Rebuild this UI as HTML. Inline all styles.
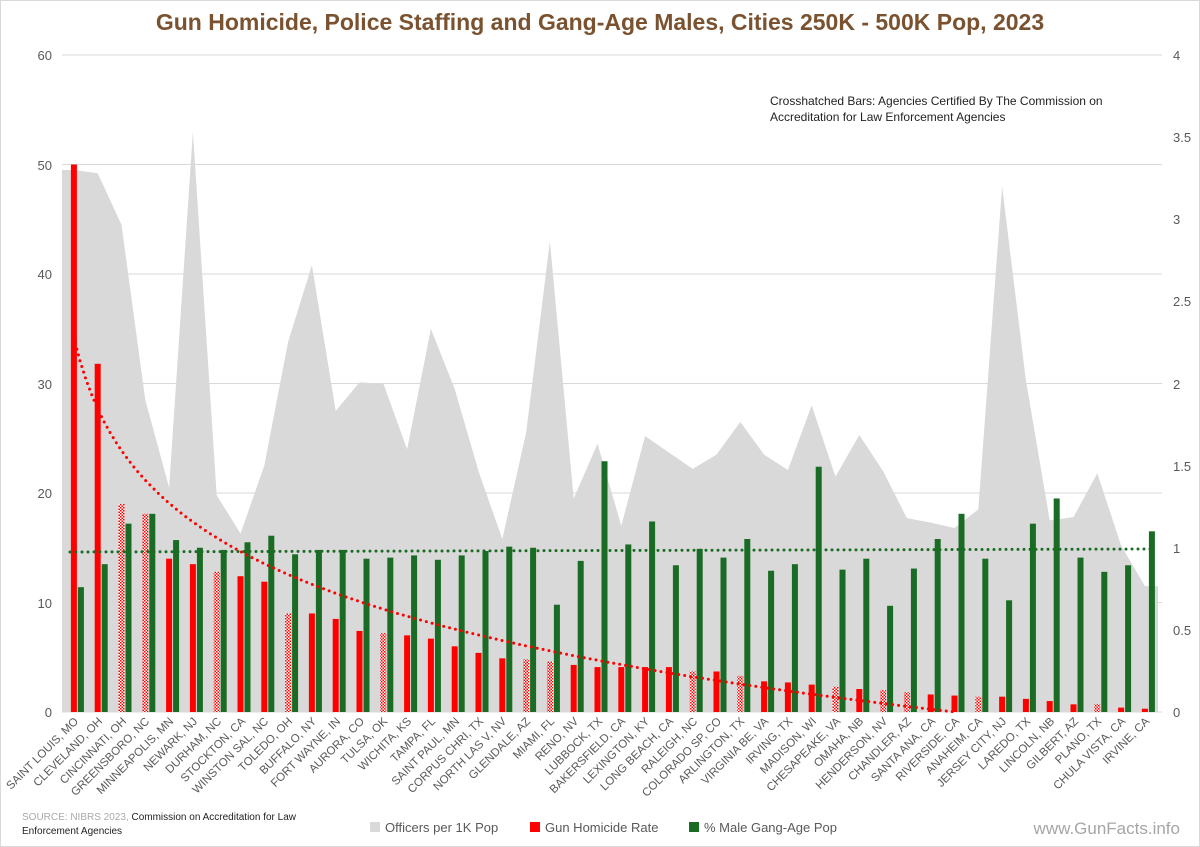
<!DOCTYPE html>
<html><head><meta charset="utf-8"><style>
html,body{margin:0;padding:0;background:#fff;}
svg{display:block;font-family:"Liberation Sans",sans-serif;}
</style></head><body>
<svg id="s" width="1200" height="847" viewBox="0 0 1200 847" xmlns="http://www.w3.org/2000/svg">
<defs>
<pattern id="h" width="3" height="3" patternUnits="userSpaceOnUse">
<rect width="3" height="3" fill="#fff"/><rect width="1.5" height="1.5" fill="#f00"/><rect x="1.5" y="1.5" width="1.5" height="1.5" fill="#f00"/>
</pattern>
</defs>
<rect x="0.5" y="0.5" width="1199" height="846" fill="#fff" stroke="#d9d9d9"/>
<text x="600" y="30" text-anchor="middle" font-size="23" font-weight="bold" fill="#7a5230">Gun Homicide, Police Staffing and Gang-Age Males, Cities 250K - 500K Pop, 2023</text>
<g id="grid" stroke="#d9d9d9" stroke-width="1"></g>
<g id="area"></g>
<g id="bars"></g>
<g id="trend"></g>
<g font-size="13" fill="#595959" text-anchor="end">
<text x="52" y="60">60</text><text x="52" y="170">50</text><text x="52" y="279">40</text><text x="52" y="389">30</text><text x="52" y="498">20</text><text x="52" y="608">10</text><text x="52" y="717">0</text>
</g>
<g font-size="13" fill="#595959">
<text x="1173" y="60">4</text><text x="1173" y="142">3.5</text><text x="1173" y="224">3</text><text x="1173" y="306">2.5</text><text x="1173" y="389">2</text><text x="1173" y="471">1.5</text><text x="1173" y="553">1</text><text x="1173" y="635">0.5</text><text x="1173" y="717">0</text>
</g>
<text x="770" y="105" font-size="12" fill="#222">Crosshatched Bars: Agencies Certified By The Commission on</text>
<text x="770" y="121" font-size="12" fill="#222">Accreditation for Law Enforcement Agencies</text>
<g id="labels" font-size="11.5" fill="#595959" text-anchor="end">
<text transform="translate(79,722) rotate(-45)">SAINT LOUIS, MO</text>
<text transform="translate(103,722) rotate(-45)">CLEVELAND, OH</text>
<text transform="translate(127,722) rotate(-45)">CINCINNATI, OH</text>
<text transform="translate(150,722) rotate(-45)">GREENSBORO, NC</text>
<text transform="translate(174,722) rotate(-45)">MINNEAPOLIS, MN</text>
<text transform="translate(198,722) rotate(-45)">NEWARK, NJ</text>
<text transform="translate(222,722) rotate(-45)">DURHAM, NC</text>
<text transform="translate(246,722) rotate(-45)">STOCKTON, CA</text>
<text transform="translate(269,722) rotate(-45)">WINSTON SAL, NC</text>
<text transform="translate(293,722) rotate(-45)">TOLEDO, OH</text>
<text transform="translate(317,722) rotate(-45)">BUFFALO, NY</text>
<text transform="translate(341,722) rotate(-45)">FORT WAYNE, IN</text>
<text transform="translate(365,722) rotate(-45)">AURORA, CO</text>
<text transform="translate(388,722) rotate(-45)">TULSA, OK</text>
<text transform="translate(412,722) rotate(-45)">WICHITA, KS</text>
<text transform="translate(436,722) rotate(-45)">TAMPA, FL</text>
<text transform="translate(460,722) rotate(-45)">SAINT PAUL, MN</text>
<text transform="translate(484,722) rotate(-45)">CORPUS CHRI, TX</text>
<text transform="translate(507,722) rotate(-45)">NORTH LAS V, NV</text>
<text transform="translate(531,722) rotate(-45)">GLENDALE, AZ</text>
<text transform="translate(555,722) rotate(-45)">MIAMI, FL</text>
<text transform="translate(579,722) rotate(-45)">RENO, NV</text>
<text transform="translate(603,722) rotate(-45)">LUBBOCK, TX</text>
<text transform="translate(626,722) rotate(-45)">BAKERSFIELD, CA</text>
<text transform="translate(650,722) rotate(-45)">LEXINGTON, KY</text>
<text transform="translate(674,722) rotate(-45)">LONG BEACH, CA</text>
<text transform="translate(698,722) rotate(-45)">RALEIGH, NC</text>
<text transform="translate(722,722) rotate(-45)">COLORADO SP, CO</text>
<text transform="translate(745,722) rotate(-45)">ARLINGTON, TX</text>
<text transform="translate(769,722) rotate(-45)">VIRGINIA BE, VA</text>
<text transform="translate(793,722) rotate(-45)">IRVING, TX</text>
<text transform="translate(817,722) rotate(-45)">MADISON, WI</text>
<text transform="translate(841,722) rotate(-45)">CHESAPEAKE, VA</text>
<text transform="translate(864,722) rotate(-45)">OMAHA, NB</text>
<text transform="translate(888,722) rotate(-45)">HENDERSON, NV</text>
<text transform="translate(912,722) rotate(-45)">CHANDLER, AZ</text>
<text transform="translate(936,722) rotate(-45)">SANTA ANA, CA</text>
<text transform="translate(960,722) rotate(-45)">RIVERSIDE, CA</text>
<text transform="translate(983,722) rotate(-45)">ANAHEIM, CA</text>
<text transform="translate(1007,722) rotate(-45)">JERSEY CITY, NJ</text>
<text transform="translate(1031,722) rotate(-45)">LAREDO, TX</text>
<text transform="translate(1055,722) rotate(-45)">LINCOLN, NB</text>
<text transform="translate(1079,722) rotate(-45)">GILBERT, AZ</text>
<text transform="translate(1102,722) rotate(-45)">PLANO, TX</text>
<text transform="translate(1126,722) rotate(-45)">CHULA VISTA, CA</text>
<text transform="translate(1150,722) rotate(-45)">IRVINE, CA</text>
</g>
<text x="22" y="820" font-size="10" fill="#aaa">SOURCE: NIBRS 2023, <tspan fill="#222">Commission on Accreditation for Law</tspan></text>
<text x="22" y="834" font-size="10" fill="#222">Enforcement Agencies</text>
<rect x="370" y="822" width="10" height="10" fill="#d9d9d9"/>
<text x="385" y="832" font-size="13" fill="#595959">Officers per 1K Pop</text>
<rect x="530" y="822" width="10" height="10" fill="#f00"/>
<text x="545" y="832" font-size="13" fill="#595959">Gun Homicide Rate</text>
<rect x="689" y="822" width="10" height="10" fill="#1a6b23"/>
<text x="704" y="832" font-size="13" fill="#595959">% Male Gang-Age Pop</text>
<text x="1180" y="834" font-size="17" fill="#a6a6a6" text-anchor="end">www.GunFacts.info</text>
</svg>
<script>
var NS="http://www.w3.org/2000/svg";
function el(p,t,a){var e=document.createElementNS(NS,t);for(var k in a)e.setAttribute(k,a[k]);document.getElementById(p).appendChild(e);return e;}
function Y(v){return 712-v*10.95;}
for(var g=0;g<=60;g+=10){el("grid","line",{x1:62,x2:1162,y1:Y(g),y2:Y(g)});}
var red=[50,31.8,19,18.1,14,13.5,12.8,12.4,11.9,9.0,9.0,8.5,7.4,7.2,7.0,6.7,6.0,5.4,4.9,4.8,4.6,4.3,4.1,4.1,4.1,4.1,3.7,3.7,3.3,2.8,2.7,2.5,2.3,2.1,2.0,1.8,1.6,1.5,1.4,1.4,1.2,1.0,0.7,0.7,0.4,0.3];
var hat=[2,3,6,9,13,19,20,26,28,32,34,35,38,43];
var grn=[11.4,13.5,17.2,18.1,15.7,15.0,14.8,15.5,16.1,14.4,14.8,14.8,14.0,14.1,14.3,13.9,14.3,14.7,15.1,15.0,9.8,13.8,22.9,15.3,17.4,13.4,14.9,14.1,15.8,12.9,13.5,22.4,13.0,14.0,9.7,13.1,15.8,18.1,14.0,10.2,17.2,19.5,14.1,12.8,13.4,16.5];
var ar=[49.5,49.2,44.5,28.5,20.5,53,19.8,16.3,22.5,33.8,40.8,27.5,30.1,30,24,35,29.5,22,15.8,25.5,43,19.5,24.5,17,25.2,23.7,22.2,23.5,26.5,23.5,22.1,28,21.5,25.3,22,17.7,17.3,16.8,18.5,48,30.3,17.5,17.8,21.8,15.2,11.5];
function cx(i){return 73.9+23.8*i;}
var pts="62,712 62,"+Y(ar[0]);
for(var i=0;i<46;i++)pts+=" "+cx(i)+","+Y(ar[i]);
pts+=" 1158,"+Y(ar[45])+" 1158,712";
el("area","polygon",{points:pts,fill:"#d9d9d9"});
for(var i=0;i<46;i++){
 var c=cx(i);
 el("bars","rect",{x:c-3,y:Y(red[i]),width:6,height:red[i]*10.95,fill:hat.indexOf(i)>=0?"url(#h)":"#f00"});
 el("bars","rect",{x:c+4,y:Y(grn[i]),width:6,height:grn[i]*10.95,fill:"#1a6b23"});
}
var d="";
for(var t=0;t<=37;t+=0.25){var v=34.2-9.4*Math.log(t+1);if(v<0)v=0;d+=(t?"L":"M")+cx(t).toFixed(1)+","+Y(v).toFixed(1);}
el("trend","path",{d:d,fill:"none",stroke:"#f00","stroke-width":3,"stroke-dasharray":"0 6","stroke-linecap":"round"});
el("trend","line",{x1:70,y1:552,x2:1152,y2:549,stroke:"#1a6b23","stroke-width":3,"stroke-dasharray":"0 6","stroke-linecap":"round"});
</script>
</body></html>
